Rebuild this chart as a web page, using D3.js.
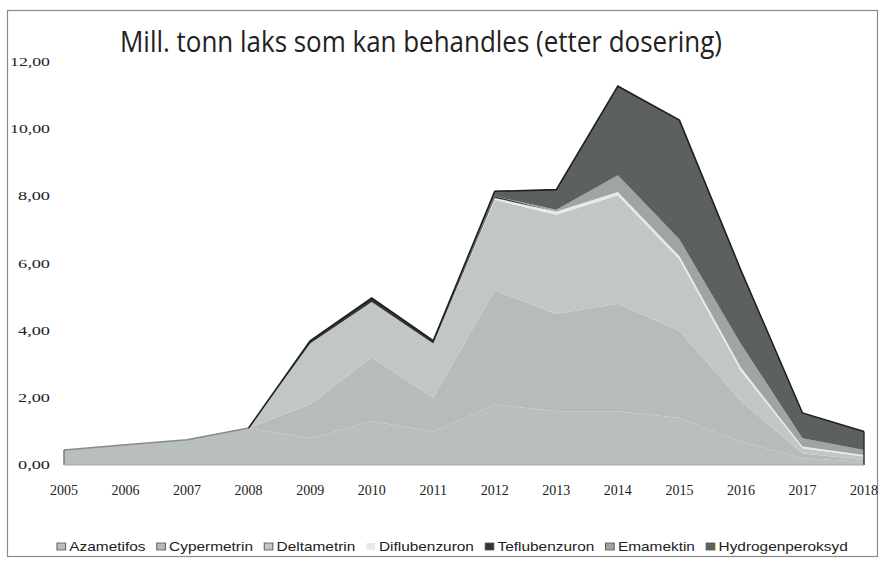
<!DOCTYPE html>
<html>
<meta charset="utf-8">
<style>
body { margin: 0; background: #fff; }
text { fill: #222; }
</style>
<body>
</body>
<script src="https://cdn.jsdelivr.net/npm/d3@7"></script>
<script>

var years = [2005, 2006, 2007, 2008, 2009, 2010, 2011, 2012, 2013, 2014, 2015, 2016, 2017, 2018];

var seriesNames = ["Azametifos", "Cypermetrin", "Deltametrin", "Diflubenzuron",
                   "Teflubenzuron", "Emamektin", "Hydrogenperoksyd"];

// mill. tonn
var azametifos       = [0.45, 0.60, 0.75, 1.10, 0.80, 1.30, 1.00, 1.80, 1.60, 1.60, 1.40, 0.70, 0.20, 0.10];
var cypermetrin      = [0, 0, 0, 0, 1.00, 1.90, 1.00, 3.40, 2.90, 3.20, 2.60, 1.20, 0.15, 0.05];
var deltametrin      = [0, 0, 0, 0, 1.82, 1.65, 1.62, 2.70, 2.95, 3.23, 2.12, 0.90, 0.15, 0.10];
var diflubenzuron    = [0, 0, 0, 0, 0, 0, 0, 0.05, 0.10, 0.10, 0.10, 0.10, 0.05, 0.05];
var teflubenzuron    = [0, 0, 0, 0, 0.08, 0.12, 0.08, 0.05, 0, 0, 0, 0, 0, 0];
var emamektin        = [0, 0, 0, 0, 0, 0, 0, 0, 0.05, 0.50, 0.50, 0.70, 0.25, 0.15];
var hydrogenperoksyd = [0, 0, 0, 0, 0, 0, 0, 0.15, 0.60, 2.65, 3.55, 2.20, 0.75, 0.55];

var yTicks = [0, 2, 4, 6, 8, 10, 12];

var colors = ["#b9c0bc", "#b6bdb9", "#c1c8c4", "#e6ebe8", "#333635", "#9fa6a2", "#5c605e"];

var width = 883, height = 562;

var svg = d3.select("body").append("svg")
    .attr("width", width)
    .attr("height", height);

// outer frame of the scanned chart
svg.append("rect")
    .attr("x", 7.5).attr("y", 10.5)
    .attr("width", 870).attr("height", 546)
    .attr("fill", "#fff")
    .attr("stroke", "#8a8a8a")
    .attr("stroke-width", 1.2);

var x = d3.scaleLinear().domain([2005, 2018]).range([64, 864]);
var y = d3.scaleLinear().domain([0, 12]).range([465, 62]);

var allSeries = [azametifos, cypermetrin, deltametrin, diflubenzuron,
                 teflubenzuron, emamektin, hydrogenperoksyd];

var table = years.map(function (yr, i) {
  var row = { year: yr };
  seriesNames.forEach(function (n, k) { row[n] = allSeries[k][i]; });
  return row;
});

var stack = d3.stack().keys(seriesNames);
var layers = stack(table);

var area = d3.area()
    .x(function (d) { return x(d.data.year); })
    .y0(function (d) { return y(d[0]); })
    .y1(function (d) { return y(d[1]); });

svg.append("g").selectAll("path")
    .data(layers)
  .enter().append("path")
    .attr("d", area)
    .attr("fill", function (d, i) { return colors[i]; });

// dark top edge of the stack
var topLayer = Array.from(layers[layers.length - 1]);
var topLine = d3.line()
    .x(function (d) { return x(d.data.year); })
    .y(function (d) { return y(d[1]); });

svg.append("path")
    .attr("d", topLine(topLayer.slice(0, 4)))
    .attr("fill", "none")
    .attr("stroke", "#868b89")
    .attr("stroke-width", 1.5);

svg.append("path")
    .attr("d", topLine(topLayer.slice(3)))
    .attr("fill", "none")
    .attr("stroke", "#1e2020")
    .attr("stroke-width", 1.6);

// vertical edges at both ends
[0, years.length - 1].forEach(function (i) {
  svg.append("line")
      .attr("x1", x(years[i])).attr("x2", x(years[i]))
      .attr("y1", y(0)).attr("y2", y(topLayer[i][1]))
      .attr("stroke", i == 0 ? "#6f7472" : "#2a2c2b")
      .attr("stroke-width", 1.4);
});

// thin light base line
svg.append("line")
    .attr("x1", x(2005)).attr("x2", x(2018))
    .attr("y1", y(0)).attr("y2", y(0))
    .attr("stroke", "#a3a9a6")
    .attr("stroke-width", 1);

// y tick labels
var fmt = function (v) { return v.toFixed(2).replace(".", ","); };
svg.append("g").selectAll("text")
    .data(yTicks)
  .enter().append("text")
    .attr("x", 50)
    .attr("y", function (d) { return y(d) + 4; })
    .attr("text-anchor", "end")
    .attr("textLength", function (d) { return d >= 10 ? 40 : 32; })
    .attr("lengthAdjust", "spacingAndGlyphs")
    .style("font-family", "'Liberation Serif', serif")
    .style("font-size", "13px")
    .text(fmt);

// x tick labels
svg.append("g").selectAll("text")
    .data(years)
  .enter().append("text")
    .attr("x", function (d) { return x(d); })
    .attr("y", 495)
    .attr("text-anchor", "middle")
    .style("font-family", "'Liberation Serif', serif")
    .style("font-size", "14px")
    .text(function (d) { return d; });

// title
svg.append("text")
    .attr("x", 120)
    .attr("y", 52)
    .attr("textLength", 602)
    .attr("lengthAdjust", "spacingAndGlyphs")
    .style("font-family", "'Open Sans', sans-serif")
    .style("font-size", "29px")
    .text("Mill. tonn laks som kan behandles (etter dosering)");

// legend
var legend = svg.append("g");
var lx = 0;
var items = legend.selectAll("g")
    .data(seriesNames)
  .enter().append("g");

items.append("rect")
    .attr("width", 7).attr("height", 7)
    .attr("y", -8)
    .attr("fill", function (d, i) { return colors[i]; })
    .attr("stroke", function (d, i) { return i == 3 ? "none" : "#555"; })
    .attr("stroke-width", 0.8);

items.append("text")
    .attr("x", 10)
    .style("font-family", "'Liberation Sans', sans-serif")
    .style("font-size", "12.5px")
    .text(function (d) { return d; });

items.each(function () {
  var w = d3.select(this).select("text").node().getComputedTextLength();
  d3.select(this).attr("transform", "translate(" + lx + ",0)");
  lx += w + 10 + 9;
});
lx -= 9;
var scaleX = (848 - 57) / lx;
legend.attr("transform", "translate(57,551) scale(" + scaleX + ",1)");

</script>
</html>
